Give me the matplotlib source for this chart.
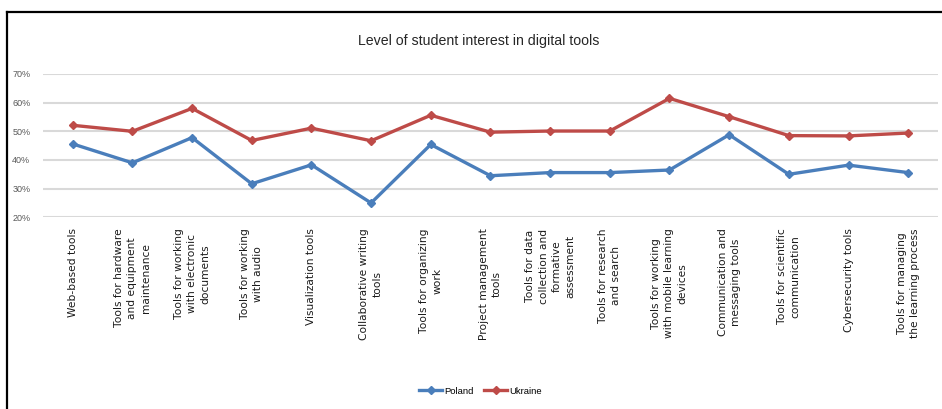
import matplotlib
matplotlib.use('Agg')
import matplotlib.pyplot as plt
from matplotlib.lines import Line2D
from matplotlib.ticker import FuncFormatter

categories = [
    "Web-based tools",
    "Tools for hardware\nand equipment\nmaintenance",
    "Tools for working\nwith electronic\ndocuments",
    "Tools for working\nwith audio",
    "Visualization tools",
    "Collaborative writing\ntools",
    "Tools for organizing\nwork",
    "Project management\ntools",
    "Tools for data\ncollection and\nformative\nassessment",
    "Tools for research\nand search",
    "Tools for working\nwith mobile learning\ndevices",
    "Communication and\nmessaging tools",
    "Tools for scientific\ncommunication",
    "Cybersecurity tools",
    "Tools for managing\nthe learning process",
]
poland = [45.6, 39.0, 47.8, 31.7, 38.3, 25.0, 45.4, 34.5, 35.6, 35.6, 36.5, 48.8, 35.0, 38.2, 35.6]
ukraine = [52.1, 50.0, 58.0, 46.8, 51.1, 46.7, 55.6, 49.7, 50.1, 50.1, 61.5, 55.1, 48.5, 48.4, 49.4]
yticks = [20, 30, 40, 50, 60, 70]

narrow = ["Liberation Sans Narrow", "Liberation Sans", "DejaVu Sans"]
blue = "#4a7ebb"
red = "#be4b48"

fig = plt.figure(figsize=(9.42, 4.09), dpi=100)
ax = fig.add_axes([0.0455, 0.4687, 0.9503, 0.3504])

x = list(range(len(categories)))
ax.plot(x, poland, color=blue, lw=2.4, marker="D", ms=4.5, label="Poland", zorder=3)
ax.plot(x, ukraine, color=red, lw=2.4, marker="D", ms=4.5, label="Ukraine", zorder=3)

ax.set_xlim(-0.5, len(categories) - 0.5)
ax.set_ylim(20, 70)
ax.set_yticks(yticks)
ax.yaxis.set_major_formatter(FuncFormatter(lambda v, p: f"{v:.0f}%"))
ax.grid(True, axis="y", color="#d9d9d9", lw=1.5)
ax.set_axisbelow(True)
for s in ax.spines.values():
    s.set_visible(False)
ax.tick_params(axis="both", length=0)
ax.tick_params(axis="y", pad=9, labelsize=6.5, labelcolor="#595959")
for lab in ax.get_yticklabels():
    lab.set_family(narrow)

ax.set_xticks(x)
ax.set_xticklabels(categories, rotation=90, ha="center", va="top",
                   multialignment="center", fontsize=7.7, color="#1a1a1a",
                   linespacing=1.4)
ax.tick_params(axis="x", pad=8)

ax.set_title("Level of student interest in digital tools", fontsize=10.2,
             family=narrow, color="#262626", pad=21, x=0.487)

leg = fig.legend(loc="center", bbox_to_anchor=(0.51, 0.044), ncol=2, frameon=False,
                 prop={"family": narrow, "size": 6.8}, handlelength=2.4,
                 columnspacing=1.2, handletextpad=0.2)

# chart frame (left and top edges visible)
fig.add_artist(Line2D([0.0074, 0.0074], [0, 0.971], color="black", lw=1.6,
                      transform=fig.transFigure))
fig.add_artist(Line2D([0.0074, 1.0], [0.971, 0.971], color="black", lw=1.6,
                      transform=fig.transFigure))

fig.savefig("out.png", dpi=100)
